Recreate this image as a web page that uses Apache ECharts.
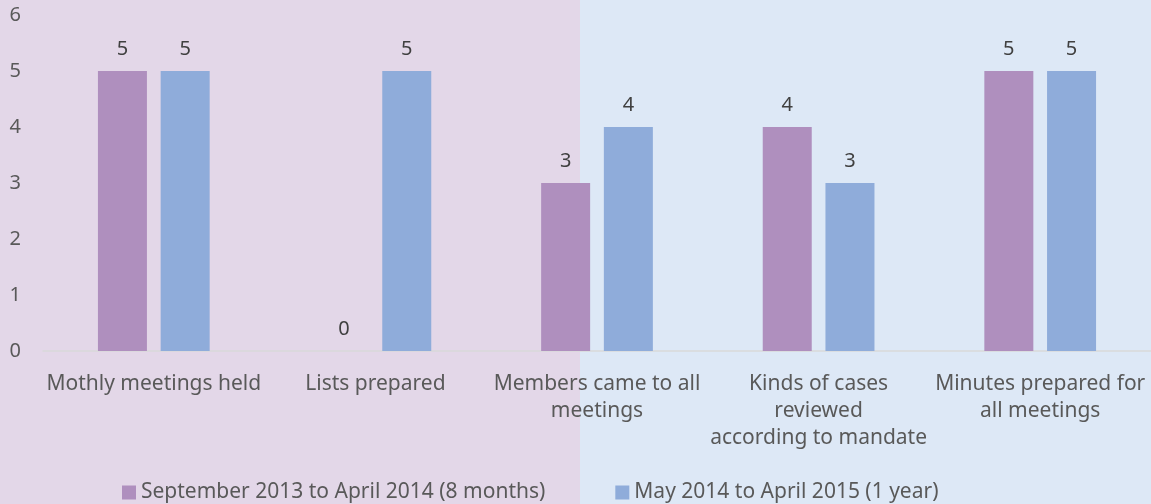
<!DOCTYPE html>
<html>
<head>
<meta charset="utf-8">
<script src="https://cdn.jsdelivr.net/npm/echarts@6/dist/echarts.min.js"></script>
<style>
  html, body { margin: 0; padding: 0; }
  #chart { width: 1151px; height: 504px; }
</style>
</head>
<body>
<div id="chart"></div>
<script>
const categories = [
  'Mothly meetings held',
  'Lists prepared',
  'Members came to all\nmeetings',
  'Kinds of cases\nreviewed\naccording to mandate',
  'Minutes prepared for\nall meetings'
];
const seriesNames = ['September 2013 to April 2014 (8 months)', 'May 2014 to April 2015 (1 year)'];
const firstPeriod = [5, 0, 3, 4, 5];
const secondPeriod = [5, 5, 4, 3, 5];

const textColor = '#595959';
const font = 'Noto Sans';

const chart = echarts.init(document.getElementById('chart'));

const labelStyle = {
  show: true,
  position: 'top',
  distance: 12,
  color: '#404040',
  fontSize: 20,
  fontFamily: font
};

chart.setOption({
  animation: false,
  graphic: [
    { type: 'rect', left: 0, top: 0, z: -10, shape: { width: 580, height: 504 }, style: { fill: '#E3D7E8' } },
    { type: 'rect', left: 580, top: 0, z: -10, shape: { width: 571, height: 504 }, style: { fill: '#DDE8F6' } }
  ],
  grid: { left: 43, right: 0, top: 15, bottom: 153, containLabel: false },
  legend: {
    left: 117,
    top: 477,
    itemWidth: 14,
    itemHeight: 14,
    itemGap: 70,
    icon: 'rect',
    textStyle: { color: textColor, fontSize: 21, fontFamily: font }
  },
  xAxis: {
    type: 'category',
    data: categories,
    axisLine: { lineStyle: { color: '#D9D9D9', width: 1.5 } },
    axisTick: { show: false },
    axisLabel: {
      color: textColor,
      fontSize: 21,
      fontFamily: font,
      lineHeight: 27,
      margin: 20,
      interval: 0
    }
  },
  yAxis: {
    type: 'value',
    min: 0,
    max: 6,
    interval: 1,
    splitLine: { show: false },
    axisLine: { show: false },
    axisTick: { show: false },
    axisLabel: { color: textColor, fontSize: 20, fontFamily: font, margin: 22 }
  },
  series: [
    {
      name: seriesNames[0],
      type: 'bar',
      data: firstPeriod,
      barWidth: 49,
      barGap: '28%',
      itemStyle: { color: '#AF8FBE' },
      label: labelStyle
    },
    {
      name: seriesNames[1],
      type: 'bar',
      data: secondPeriod,
      barWidth: 49,
      itemStyle: { color: '#8FACDA' },
      label: labelStyle
    }
  ]
});
</script>
</body>
</html>
